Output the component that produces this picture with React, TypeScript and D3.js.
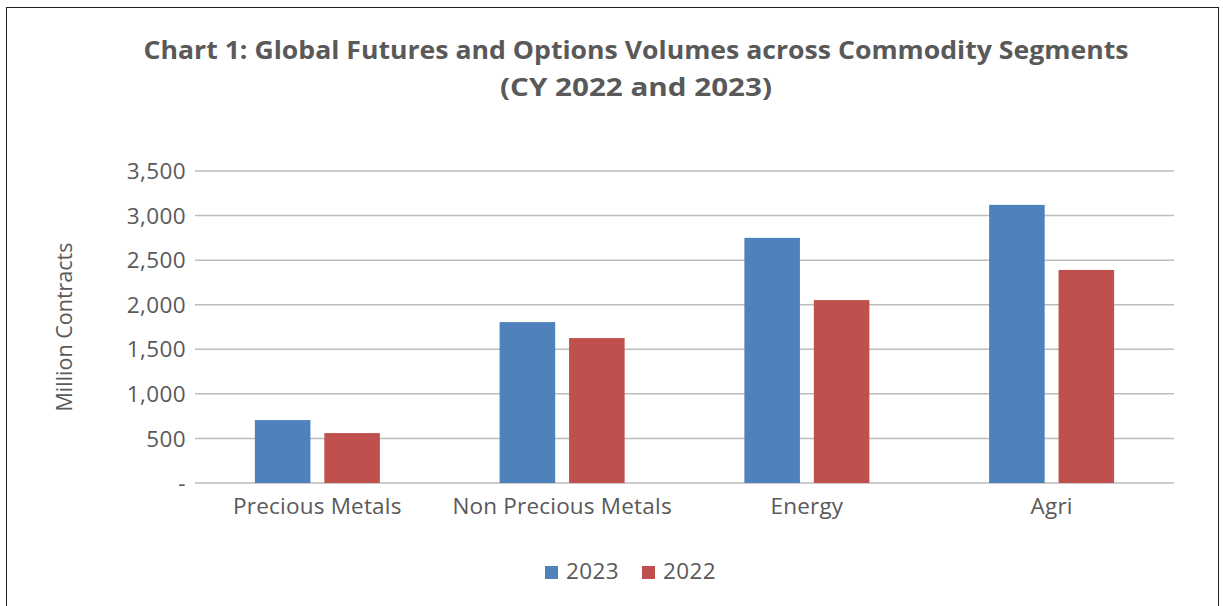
import React from "react";
import * as d3 from "d3";

const categories = ["Precious Metals", "Non Precious Metals", "Energy", "Agri"];
const series = ["2023", "2022"];
const values2023 = [706, 1805, 2750, 3120];
const values2022 = [560, 1626, 2052, 2390];
const yTicks = [0, 500, 1000, 1500, 2000, 2500, 3000, 3500];
const colors = ["#4F81BD", "#C0504D"];

const W = 1223;
const H = 606;
const plot = { left: 195, right: 1174, top: 171, bottom: 483 };
const FONT = "'Open Sans', 'DejaVu Sans', sans-serif";
const TEXT = "#595959";

export default function App() {
  const x = d3.scaleBand<string>().domain(categories).range([plot.left, plot.right]);
  const y = d3.scaleLinear().domain([0, 3500]).range([plot.bottom, plot.top]);
  const bw = x.bandwidth();
  const barW = bw * 0.227;
  const gap = barW * 0.25;
  const groupW = barW * 2 + gap;
  const fmt = (v: number) => (v === 0 ? "-" : d3.format(",")(v));
  const data = [values2023, values2022];

  return (
    <svg width={W} height={H} style={{ position: "absolute", left: 0, top: 0 }}>
      <rect x={0} y={0} width={W} height={H} fill="#fff" />
      <rect x={6.5} y={7.5} width={1212} height={620} fill="none" stroke="#222" strokeWidth={1} />
      <text x={636} y={59} textAnchor="middle" fontFamily={FONT} fontWeight="bold" fontSize={24.5} fill={TEXT}
        textLength={985} lengthAdjust="spacingAndGlyphs">
        Chart 1: Global Futures and Options Volumes across Commodity Segments
      </text>
      <text x={636} y={96} textAnchor="middle" fontFamily={FONT} fontWeight="bold" fontSize={24.5} fill={TEXT}
        textLength={272} lengthAdjust="spacingAndGlyphs">
        (CY 2022 and 2023)
      </text>
      {yTicks.map((t) => (
        <g key={t}>
          <line x1={plot.left} x2={plot.right} y1={y(t)} y2={y(t)} stroke="#bdbdbd" strokeWidth={1.5} />
          <text x={186} y={y(t)} dy="0.36em" textAnchor="end" fontFamily={FONT} fontSize={22.5} letterSpacing={0.4} fill={TEXT}>
            {fmt(t)}
          </text>
        </g>
      ))}
      {categories.map((c, i) => {
        const cx = (x(c) as number) + bw / 2;
        return (
          <g key={c}>
            {data.map((vals, s) => (
              <rect
                key={s}
                x={cx - groupW / 2 + s * (barW + gap)}
                y={y(vals[i])}
                width={barW}
                height={y(0) - y(vals[i])}
                fill={colors[s]}
              />
            ))}
            <text x={cx} y={514} textAnchor="middle" fontFamily={FONT} fontSize={22.5} letterSpacing={0.2} fill={TEXT}>
              {c}
            </text>
          </g>
        );
      })}
      <text
        transform={`translate(72, 327) rotate(-90)`}
        textAnchor="middle"
        fontFamily={FONT}
        fontSize={21.5}
        fill={TEXT}
      >
        Million Contracts
      </text>
      {series.map((s, i) => (
        <g key={s} transform={`translate(${545 + i * 97}, 0)`}>
          <rect x={0} y={566} width={13} height={13} fill={colors[i]} />
          <text x={21} y={579} fontFamily={FONT} fontSize={22.5} letterSpacing={0.4} fill={TEXT}>
            {s}
          </text>
        </g>
      ))}
    </svg>
  );
}
